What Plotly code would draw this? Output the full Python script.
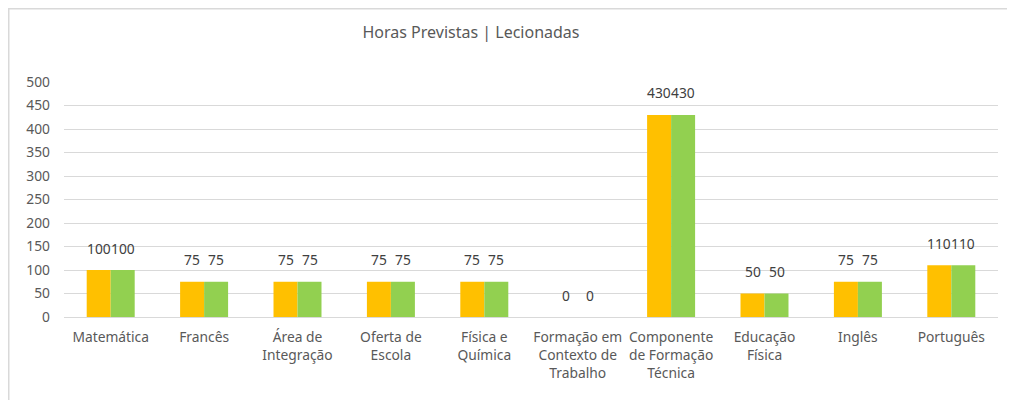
import plotly.graph_objects as go

categories = ["Matemática", "Francês", "Área de<br>Integração", "Oferta de<br>Escola",
              "Física e<br>Química", "Formação em<br>Contexto de<br>Trabalho",
              "Componente<br>de Formação<br>Técnica", "Educação<br>Física", "Inglês", "Português"]
previstas = [100, 75, 75, 75, 75, 0, 430, 50, 75, 110]
lecionadas = [100, 75, 75, 75, 75, 0, 430, 50, 75, 110]
y_ticks = [0, 50, 100, 150, 200, 250, 300, 350, 400, 450, 500]

FONT = "Noto Sans"
TXT = "#595959"
FS = 13.8

# the page body adds an 8px margin, so the figure is a bit smaller than the window
W, H = 1007, 392
L, T, R, B = 56, 74, 17, 83
PW, PH = W - L - R, H - T - B

fig = go.Figure()
fig.add_trace(go.Bar(x=categories, y=previstas, name="Previstas",
                     marker=dict(color="#FFC000", line=dict(width=0))))
fig.add_trace(go.Bar(x=categories, y=lecionadas, name="Lecionadas",
                     marker=dict(color="#92D050", line=dict(width=0))))

# value labels sit a bit above the bars, like the original
annotations = []
for cat, a, b in zip(categories, previstas, lecionadas):
    for val, shift in ((a, -12), (b, 12)):
        annotations.append(dict(x=cat, y=val, text=str(val), showarrow=False,
                                xshift=shift, yshift=22, yanchor="middle",
                                font=dict(family=FONT, size=FS, color="#404040")))

fig.update_layout(
    width=W, height=H,
    margin=dict(l=L, r=R, t=T, b=B),
    paper_bgcolor="white", plot_bgcolor="white",
    showlegend=False,
    barmode="group", bargap=0.486, bargroupgap=0,
    title=dict(text="Horas Previstas | Lecionadas", x=463 / W, xanchor="center",
               y=1 - 24 / H, yanchor="middle",
               font=dict(family=FONT, size=16, color=TXT)),
    font=dict(family=FONT, size=FS, color=TXT),
    annotations=annotations,
    shapes=[dict(type="rect", xref="paper", yref="paper",
                 x0=(0.75 - L) / PW, x1=(1005 - L) / PW,
                 y0=(T + PH - 400) / PH, y1=(T + PH - 0.75) / PH,
                 line=dict(color="#d9d9d9", width=1.5), layer="below")],
)
fig.update_xaxes(showgrid=False, showline=False, ticks="", ticklabelstandoff=10,
                 automargin=False, tickfont=dict(family=FONT, size=FS, color=TXT))
fig.update_yaxes(range=[0, 500], tickvals=y_ticks, showgrid=True, gridcolor="#d9d9d9",
                 gridwidth=1, zeroline=True, zerolinecolor="#d9d9d9", zerolinewidth=1,
                 showline=False, ticks="", ticklabelstandoff=13, automargin=False,
                 tickfont=dict(family=FONT, size=FS, color=TXT))

fig.write_html("out.html")
